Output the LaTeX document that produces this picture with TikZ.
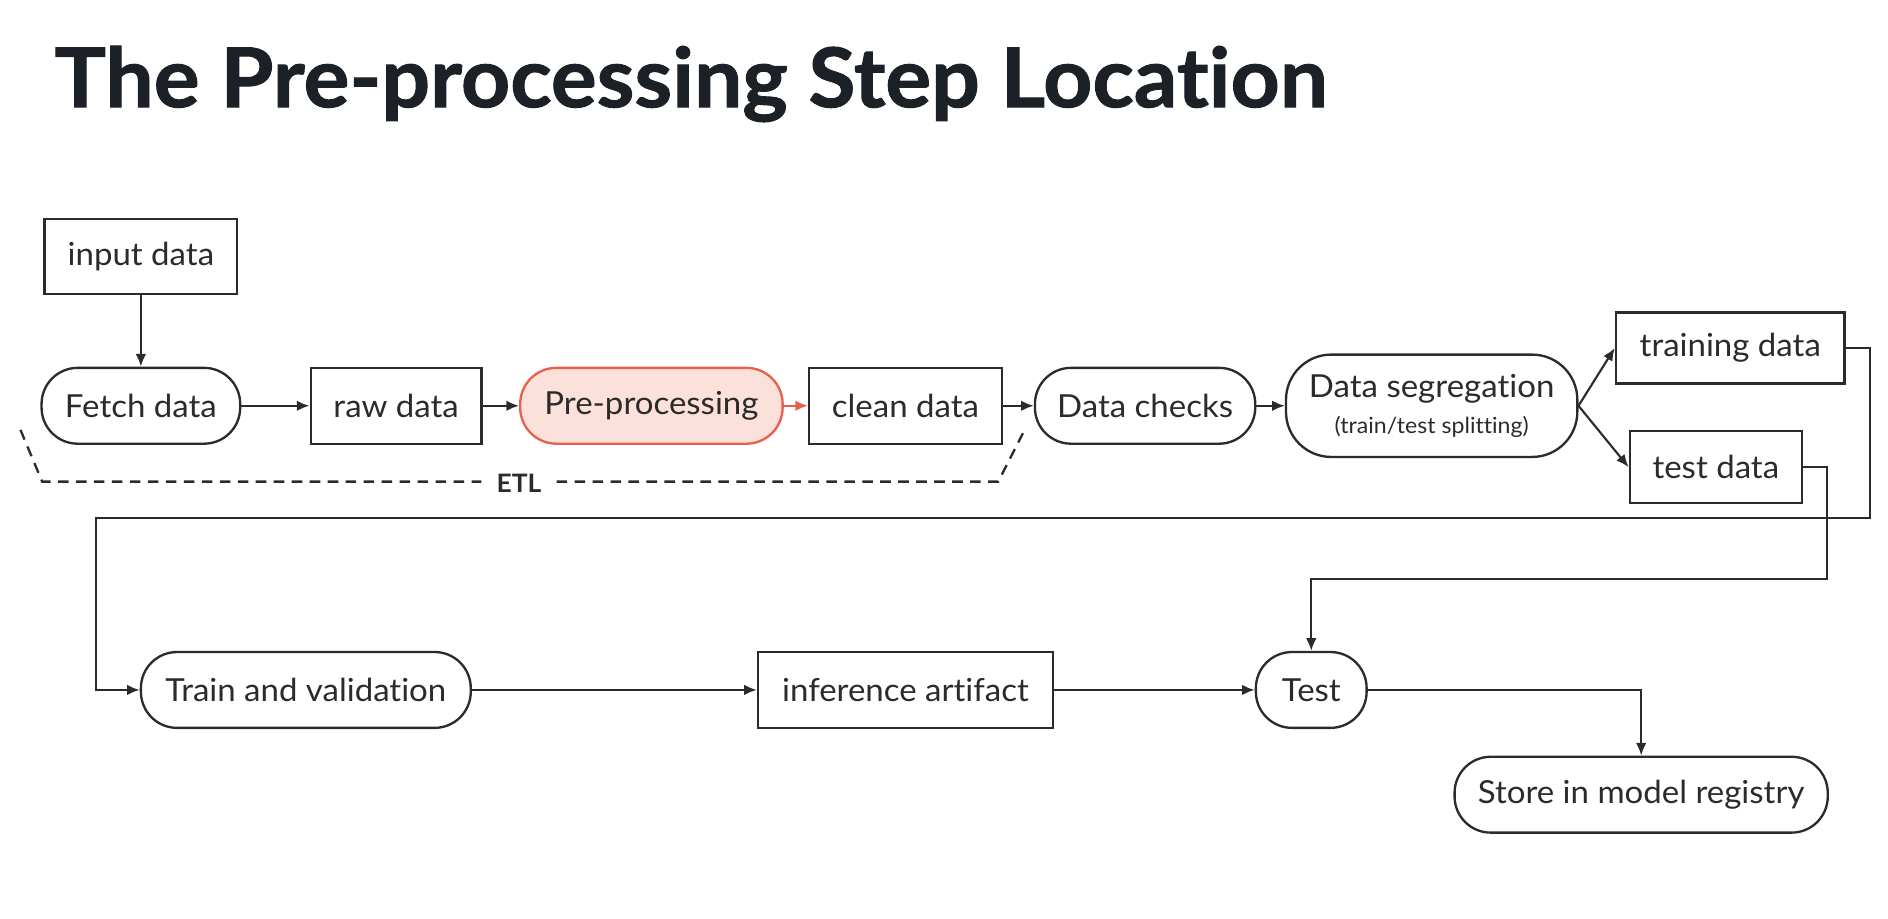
\documentclass[tikz,border=0pt]{standalone}
\usepackage{fontspec}
\setmainfont{Lato}[Ligatures={TeX,NoCommon},FakeStretch=1.04]
\newfontfamily\titlefont{Lato}[Ligatures={TeX,NoCommon},FakeBold=1.2,FakeStretch=1.04]
\usepackage{tikz}
\usetikzlibrary{arrows.meta}

\definecolor{ink}{HTML}{2B2B2B}
\definecolor{titleink}{HTML}{1C2127}
\definecolor{redline}{HTML}{E8604C}
\definecolor{redfill}{HTML}{FCE1DB}

\tikzset{
	box/.style={draw=ink,line width=1.1pt,minimum height=1.26cm,inner sep=0pt,text=ink,font=\fontsize{15}{17}\selectfont},
	pill/.style={box,rounded corners=0.6cm},
	arr/.style={-{Latex[length=6pt,width=5pt]},line width=1pt,draw=ink},
	etldash/.style={line width=1.1pt,draw=ink,dash pattern=on 5pt off 3.5pt}
}

\begin{document}
\begin{tikzpicture}[x=0.02cm,y=-0.02cm]
				\useasboundingbox (0,0) rectangle (1568,763);
				\node[anchor=base west,inner sep=0pt,text=titleink,font=\titlefont\fontsize{39}{44}\selectfont\bfseries] (title) at (45,89) {The Pre-processing Step Location};
				% boxes and pills
				\foreach \n/\s/\x/\y/\w/\h/\t in {
					inp/box/117/213/3.2/1.24/input data,
					fetch/pill/117/337/3.3/1.26/Fetch data,
					raw/box/329/337/2.84/1.26/raw data,
					clean/box/752/337/3.2/1.26/clean data,
					checks/pill/951/337/3.66/1.26/Data checks,
					train/box/1437/289/3.8/1.18/training data,
					testdata/box/1425/388/2.86/1.2/test data,
					trainval/pill/254/573/5.48/1.26/Train and validation,
					infer/box/752/573/4.9/1.26/inference artifact,
					test/pill/1089/573/1.84/1.26/Test,
					store/pill/1363/660/6.2/1.26/Store in model registry} {
					\node[\s,minimum width=\w cm,minimum height=\h cm] (\n) at (\x,\y) {\t};
				}
				\node[pill,draw=redline,fill=redfill,minimum width=4.36cm] (prep) at (541,337) {Pre-processing};
				\node[pill,align=center,minimum width=4.84cm,minimum height=1.7cm,rounded corners=0.75cm] (seg) at (1189,337) {Data segregation\\[0pt]{\fontsize{10.5}{12}\selectfont(train/test splitting)}};
				% arrows
				\draw[arr] (inp) -- (fetch);
				\foreach \a/\b in {fetch/raw,raw/prep,clean/checks,checks/seg,trainval/infer,infer/test} {
					\draw[arr] (\a) -- (\b);
				}
				\draw[arr,draw=redline,color=redline] (prep) -- (clean);
				\draw[arr] (seg.east) -- (train.west);
				\draw[arr] (seg.east) -- (testdata.west);
				\draw[arr] (train.east) -- ++(20,0) |- (80,430) |- (trainval.west);
				\draw[arr] (testdata.east) -- ++(20,0) |- (1089,481) -- (test.north);
				\draw[arr] (test.east) -| (store.north);
				% ETL bracket
				\node[inner xsep=7pt,inner ysep=2pt,text=ink,font=\fontsize{12}{14}\selectfont\bfseries] (etl) at (431,401) {ETL};
				\coordinate (etlA) at (17,357);
				\coordinate (etlB) at (35,400);
				\coordinate (etlC) at (829,400);
				\coordinate (etlD) at (851,357);
				\draw[etldash] (etlA) -- (etlB) -- (etlB -| etl.west);
				\draw[etldash] (etlC -| etl.east) -- (etlC) -- (etlD);
\end{tikzpicture}
\end{document}
